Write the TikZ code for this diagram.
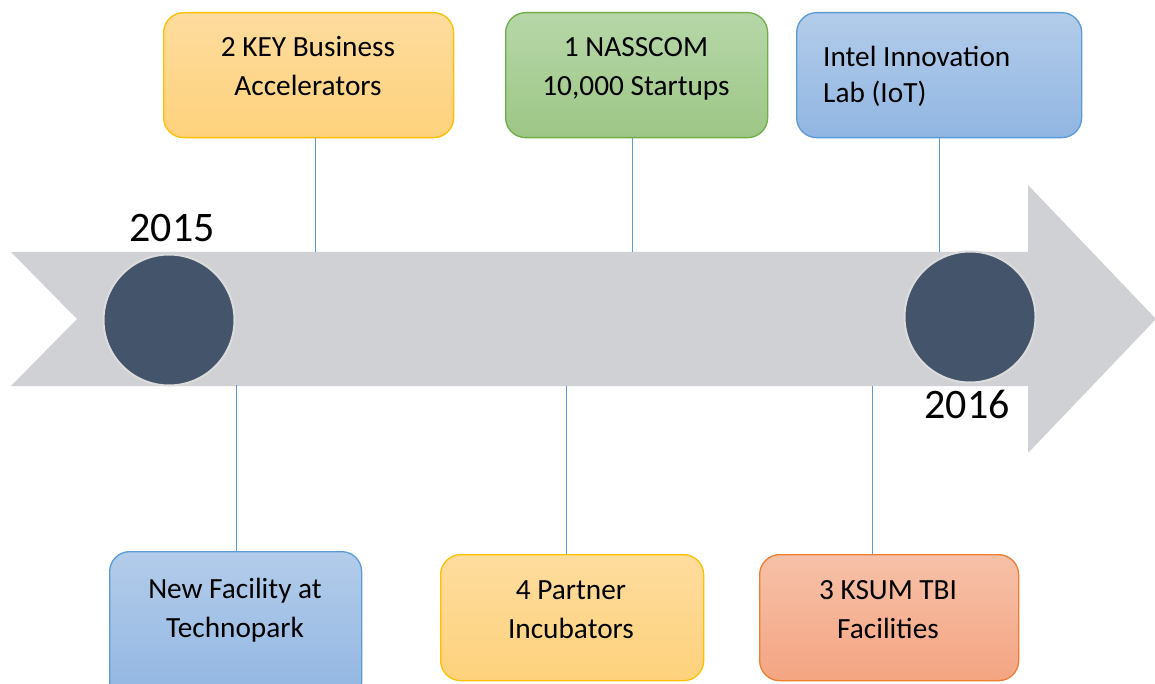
\documentclass[tikz,border=0pt]{standalone}
\usepackage{fontspec}
\setmainfont{Carlito}
\definecolor{arrowgray}{HTML}{D0D1D5}
\definecolor{dotfill}{HTML}{44546A}
\definecolor{dotrim}{HTML}{DCDCDC}
\definecolor{connblue}{HTML}{5B9BD5}
\definecolor{orTop}{HTML}{FEDC9E}\definecolor{orBot}{HTML}{FED27C}\definecolor{orEdge}{HTML}{FFC000}
\definecolor{grTop}{HTML}{B6D7A8}\definecolor{grBot}{HTML}{9DC686}\definecolor{grEdge}{HTML}{70AD47}
\definecolor{blTop}{HTML}{B3CCEA}\definecolor{blBot}{HTML}{91B6E2}\definecolor{blEdge}{HTML}{5B9BD5}
\definecolor{saTop}{HTML}{F7C1A8}\definecolor{saBot}{HTML}{F4A582}\definecolor{saEdge}{HTML}{ED7D31}
\begin{document}
\begin{tikzpicture}[x=1pt,y=-1pt,
  box/.style={rectangle, rounded corners=20pt, line width=1.3pt, inner sep=0pt, anchor=north west},
  orbox/.style={box, draw=orEdge, top color=orTop, bottom color=orBot},
  grbox/.style={box, draw=grEdge, top color=grTop, bottom color=grBot},
  blbox/.style={box, draw=blEdge, top color=blTop, bottom color=blBot},
  sabox/.style={box, draw=saEdge, top color=saTop, bottom color=saBot},
  txt/.style={font=\fontsize{29.3}{38.5}\selectfont, align=center, inner sep=0pt, anchor=base},
  year/.style={font=\fontsize{42}{50}\selectfont, inner sep=0pt, anchor=base},
  dot/.style={circle, fill=dotfill, draw=dotrim, line width=2pt, minimum size=131pt, inner sep=0pt},
  conn/.style={draw=connblue, line width=1pt}]
\useasboundingbox (0,0) rectangle (1155,684);
\fill[white] (0,0) rectangle (1155,684);
% timeline arrow
\fill[arrowgray] (11,252) -- (1028,252) -- (1028,185) -- (1156,319) -- (1028,453) -- (1028,386) -- (11,386) -- (77,319) -- cycle;
% anchor points on the arrow edges
\coordinate (a1) at (315,252);
\coordinate (a2) at (632,252);
\coordinate (a3) at (939,252);
\coordinate (a4) at (236,385);
\coordinate (a5) at (566,386);
\coordinate (a6) at (872,386);
% boxes
\node[orbox, minimum width=290pt, minimum height=125pt] (b1) at (163,12) {};
\node[grbox, minimum width=262pt, minimum height=125pt] (b2) at (505,12) {};
\node[blbox, minimum width=285pt, minimum height=125pt] (b3) at (796,12) {};
\node[blbox, minimum width=252pt, minimum height=150pt] (b4) at (109,551) {};
\node[orbox, minimum width=263pt, minimum height=126pt] (b5) at (440,554) {};
\node[sabox, minimum width=259pt, minimum height=126pt] (b6) at (759,554) {};
% connectors
\draw[conn] (a1 |- b1.south) -- (a1);
\draw[conn] (a2 |- b2.south) -- (a2);
\draw[conn] (a3 |- b3.south) -- (a3);
\draw[conn] (a4) -- (a4 |- b4.north);
\draw[conn] (a5) -- (a5 |- b5.north);
\draw[conn] (a6) -- (a6 |- b6.north);
% circles
\node[dot] (c1) at (169,320) {};
\node[dot] (c2) at (970,317) {};
% years
\node[year] (y1) at (172,242) {2015};
\node[year] (y2) at (967,418) {2016};
% box texts
\node[txt] (t1a) at (308,57) {2 KEY Business};
\node[txt] (t1b) at (308,96) {Accelerators};
\node[txt] (t2a) at (636,57) {1 NASSCOM};
\node[txt] (t2b) at (636,96) {10,000 Startups};
\node[txt, anchor=base west] (t3a) at (823,67) {Intel Innovation};
\node[txt, anchor=base west] (t3b) at (823,103) {Lab (IoT)};
\node[txt] (t4a) at (235,598) {New Facility at};
\node[txt] (t4b) at (235,637) {Technopark};
\node[txt] (t5a) at (571,599) {4 Partner};
\node[txt] (t5b) at (571,638) {Incubators};
\node[txt] (t6a) at (888,599) {3 KSUM TBI};
\node[txt] (t6b) at (888,638) {Facilities};
\end{tikzpicture}
\end{document}
